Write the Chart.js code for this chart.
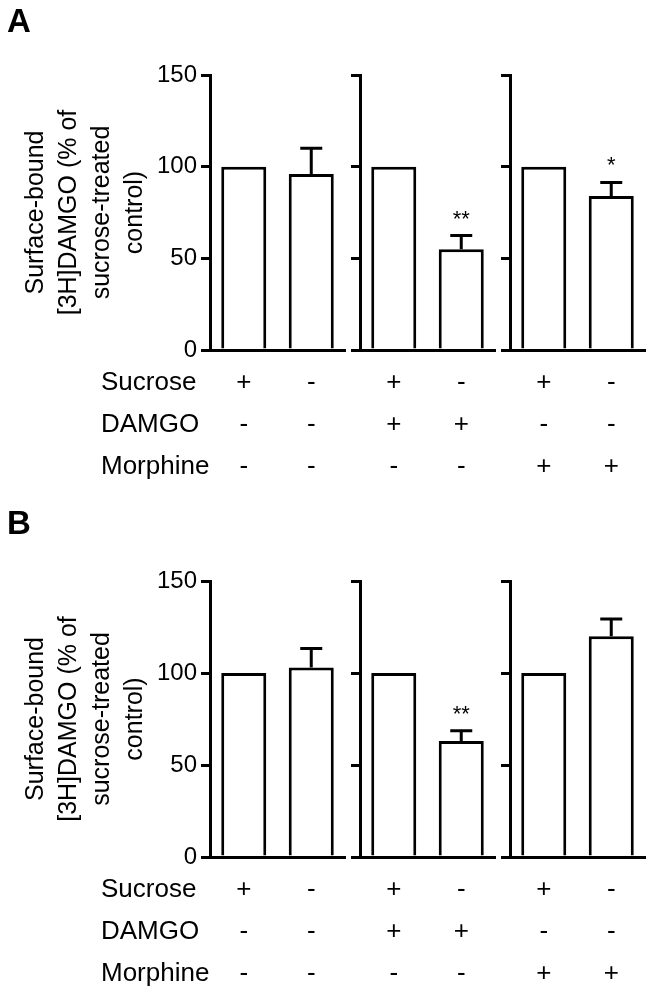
<!DOCTYPE html>
<html>
<head>
<meta charset="utf-8">
<script src="https://cdn.jsdelivr.net/npm/chart.js@4.4.1/dist/chart.umd.min.js"></script>
<style>
    html, body { margin: 0; padding: 0; background: #fff; }
    #figure { position: relative; width: 653px; height: 995px; }
    #figure canvas { position: absolute; }
</style>
</head>
<body>
<div id="figure">
    <canvas id="a1" width="350" height="500" style="left:0px;top:0px"></canvas>
    <canvas id="a2" width="160" height="500" style="left:340px;top:0px"></canvas>
    <canvas id="a3" width="160" height="500" style="left:490px;top:0px"></canvas>
    <canvas id="b1" width="350" height="501" style="left:0px;top:506px"></canvas>
    <canvas id="b2" width="160" height="501" style="left:340px;top:506px"></canvas>
    <canvas id="b3" width="160" height="501" style="left:490px;top:506px"></canvas>
</div>
<script>
// Data
const rowNames = ['Sucrose', 'DAMGO', 'Morphine'];
const sucrose  = ['+', '-', '+', '-', '+', '-'];
const damgo    = ['-', '-', '+', '+', '-', '-'];
const morphine = ['-', '-', '-', '-', '+', '+'];

const meansA = [100, 96, 100, 55, 100, 84];
const semA   = [0, 14, 0, 7.4, 0, 7.4];
const starsA = ['', '', '', '**', '', '*'];

const meansB = [100, 103, 100, 63, 100, 120];
const semB   = [0, 10.3, 0, 5.6, 0, 9.4];
const starsB = ['', '', '', '**', '', ''];

const yTicks = [0, 50, 100, 150];
const yTitle = ['Surface-bound', '[3H]DAMGO (% of', 'sucrose-treated', 'control)'];

const FONT = "'Liberation Sans', Arial, Helvetica, sans-serif";
const LINE = 3;

// Upward-only SEM bars plus significance stars
const errorBars = {
    id: 'errorBars',
    afterDatasetsDraw(chart, args, opts) {
        const ctx = chart.ctx;
        const y = chart.scales.y;
        const meta = chart.getDatasetMeta(0);
        ctx.save();
        ctx.strokeStyle = '#000';
        ctx.fillStyle = '#000';
        ctx.lineWidth = LINE;
        ctx.font = `22px ${FONT}`;
        ctx.textAlign = 'center';
        ctx.textBaseline = 'alphabetic';
        meta.data.forEach((bar, i) => {
            const top = y.getPixelForValue(opts.means[i] + opts.sem[i]);
            if (opts.sem[i] > 0) {
                ctx.beginPath();
                ctx.moveTo(bar.x, bar.y);
                ctx.lineTo(bar.x, top);
                ctx.moveTo(bar.x - 11, top);
                ctx.lineTo(bar.x + 11, top);
                ctx.stroke();
            }
            if (opts.stars[i]) {
                ctx.fillText(opts.stars[i], bar.x, top - 10);
            }
        });
        ctx.restore();
    }
};

// Panel letter and the treatment row names (first sub-panel only)
const rowLabels = {
    id: 'rowLabels',
    afterDraw(chart, args, opts) {
        if (!opts.letter) return;
        const ctx = chart.ctx;
        const x = chart.scales.x;
        ctx.save();
        ctx.fillStyle = '#000';
        ctx.font = `bold 33px ${FONT}`;
        ctx.textAlign = 'left';
        ctx.textBaseline = 'alphabetic';
        ctx.fillText(opts.letter, 7, opts.letterY);
        ctx.font = `26px ${FONT}`;
        ctx.textBaseline = 'middle';
        rowNames.forEach((name, i) => {
            ctx.fillText(name, 101, x.top + 12 + 21 + i * 42);
        });
        ctx.restore();
    }
};

function makeSubPanel(id, group, means, sem, stars, letter, letterY) {
    const first = group === 0;
    const idx = [group * 2, group * 2 + 1];
    const canvas = document.getElementById(id);

    return new Chart(canvas, {
        type: 'bar',
        data: {
            labels: idx.map(i => [sucrose[i], damgo[i], morphine[i]]),
            datasets: [{
                data: idx.map(i => means[i]),
                backgroundColor: '#fff',
                borderColor: '#000',
                borderWidth: LINE,
                barPercentage: 1,
                categoryPercentage: 0.667
            }]
        },
        options: {
            responsive: false,
            animation: false,
            layout: { padding: { top: 75, right: 5, left: 0, bottom: 0 } },
            plugins: {
                legend: { display: false },
                tooltip: { enabled: false },
                errorBars: {
                    means: idx.map(i => means[i]),
                    sem: idx.map(i => sem[i]),
                    stars: idx.map(i => stars[i])
                },
                rowLabels: { letter: first ? letter : '', letterY: letterY }
            },
            scales: {
                x: {
                    afterFit: s => { s.height = 150; },
                    grid: { display: false, drawTicks: false },
                    border: { color: '#000', width: LINE },
                    ticks: {
                        color: '#000',
                        padding: 12,
                        autoSkip: false,
                        maxRotation: 0,
                        font: { family: FONT, size: 26, lineHeight: '42px' }
                    }
                },
                y: {
                    min: 0,
                    max: 150,
                    afterBuildTicks: s => { s.ticks = yTicks.map(v => ({ value: v })); },
                    afterFit: s => { s.width = first ? 210 : 20; },
                    grid: { drawOnChartArea: false, color: '#000', lineWidth: LINE, tickLength: 9 },
                    border: { color: '#000', width: LINE },
                    ticks: {
                        display: first,
                        color: '#000',
                        padding: 4,
                        font: { family: FONT, size: 24 }
                    },
                    title: {
                        display: first,
                        text: yTitle,
                        color: '#000',
                        padding: { top: 20, bottom: 0 },
                        font: { family: FONT, size: 25, lineHeight: '33px' }
                    }
                }
            }
        },
        plugins: [errorBars, rowLabels]
    });
}

makeSubPanel('a1', 0, meansA, semA, starsA, 'A', 32);
makeSubPanel('a2', 1, meansA, semA, starsA);
makeSubPanel('a3', 2, meansA, semA, starsA);
makeSubPanel('b1', 0, meansB, semB, starsB, 'B', 28);
makeSubPanel('b2', 1, meansB, semB, starsB);
makeSubPanel('b3', 2, meansB, semB, starsB);
</script>
</body>
</html>
